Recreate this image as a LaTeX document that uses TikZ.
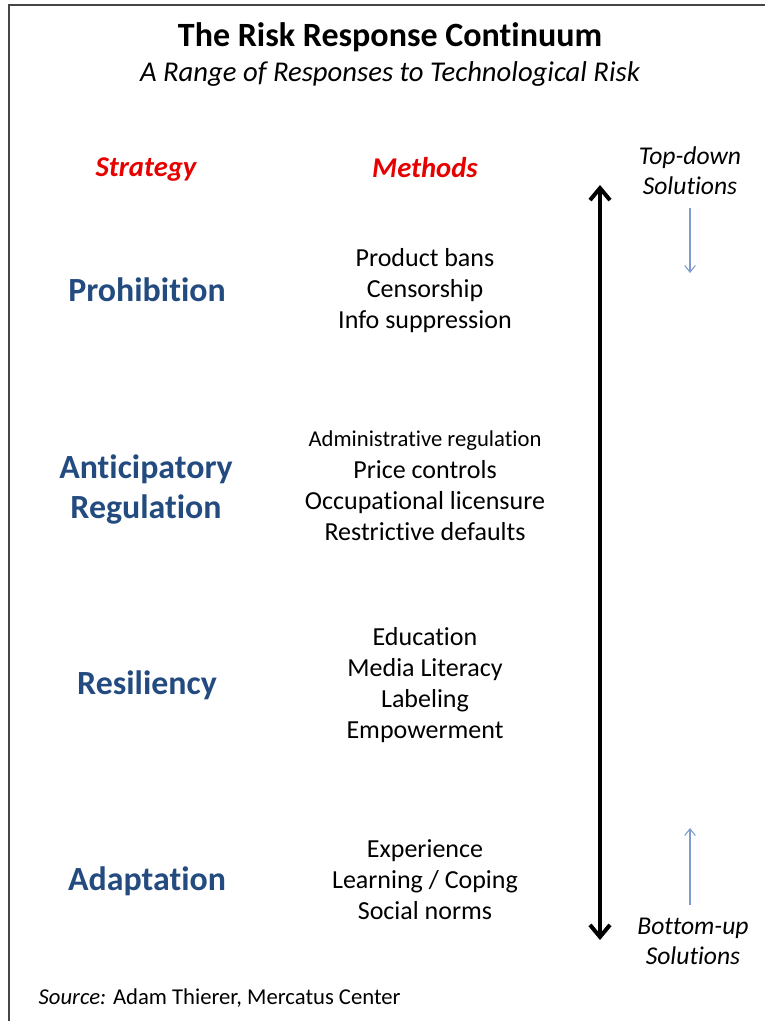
\documentclass[tikz,border=0pt]{standalone}
\usepackage{fontspec}
\setmainfont{Carlito}[Ligatures=NoCommon]
\usepackage{tikz}
\usetikzlibrary{arrows.meta}
\definecolor{stratblue}{RGB}{35,75,128}
\definecolor{headred}{RGB}{230,0,0}
\definecolor{framegray}{RGB}{70,70,70}
\definecolor{hintblue}{RGB}{125,155,205}
\tikzset{
  method/.style={font=\fontsize{19.5}{23.25}\selectfont, align=center},
  strategy/.style={font=\fontsize{25.4}{30}\selectfont\bfseries, text=stratblue, align=center},
  colhead/.style={font=\fontsize{21.5}{24}\selectfont\bfseries\itshape, text=headred},
  sidenote/.style={font=\fontsize{19.2}{22.5}\selectfont\itshape, align=center},
}
\begin{document}
\begin{tikzpicture}[x=0.75pt, y=-0.75pt]
\useasboundingbox (0,0) rectangle (765,1021) ;
\draw[framegray, line width=1.5pt] (9,1021) -- (9,5) -- (765,5) ;
\node[font=\fontsize{25.5}{30}\selectfont\bfseries] (title) at (390,37) {The Risk Response Continuum} ;
\node[font=\fontsize{21.5}{25}\selectfont\itshape] (subtitle) at (390,74) {A Range of Responses to Technological Risk} ;
\node[colhead] (strathead) at (146,170) {Strategy} ;
\node[colhead] (methhead) at (425,168) {Methods} ;
\node[sidenote] (topdown) at (690,171) {Top-down\\Solutions} ;
\node[sidenote] (bottomup) at (693,941) {Bottom-up\\Solutions} ;
\node[strategy] (prohib) at (147,290) {Prohibition} ;
\node[strategy] (anticip) at (146,489) {Anticipatory\\Regulation} ;
\node[strategy] (resil) at (147,685) {Resiliency} ;
\node[strategy] (adapt) at (147,881) {Adaptation} ;
\node[method] (meth1) at (425,291) {Product bans\\Censorship\\Info suppression} ;
\node[method] (meth2a) at (425,441) {\fontsize{17}{20}\selectfont Administrative regulation} ;
\node[method] (meth2) at (425,501) {Price controls\\Occupational licensure\\Restrictive defaults} ;
\node[method] (meth3) at (425,685) {Education\\Media Literacy\\Labeling\\Empowerment} ;
\node[method] (meth4) at (425,880) {Experience\\Learning / Coping\\Social norms} ;
\node[font=\fontsize{17}{20}\selectfont, anchor=west] (source) at (34,998) {\textit{Source:} Adam Thierer, Mercatus Center} ;
\coordinate (top) at (600,185) ;
\coordinate (bot) at (600,940) ;
\draw[line width=3pt, {Straight Barb[length=9pt,width=15pt]}-{Straight Barb[length=9pt,width=15pt]}] (bot) -- (top) ;
\coordinate (downA) at (690,208) ;
\coordinate (downB) at (690,273) ;
\draw[hintblue, line width=0.8pt, -{Straight Barb[length=5pt,width=8pt]}] (downA) -- (downB) ;
\coordinate (upA) at (690,905) ;
\coordinate (upB) at (690,828) ;
\draw[hintblue, line width=0.8pt, -{Straight Barb[length=5pt,width=8pt]}] (upA) -- (upB) ;
\end{tikzpicture}
\end{document}
